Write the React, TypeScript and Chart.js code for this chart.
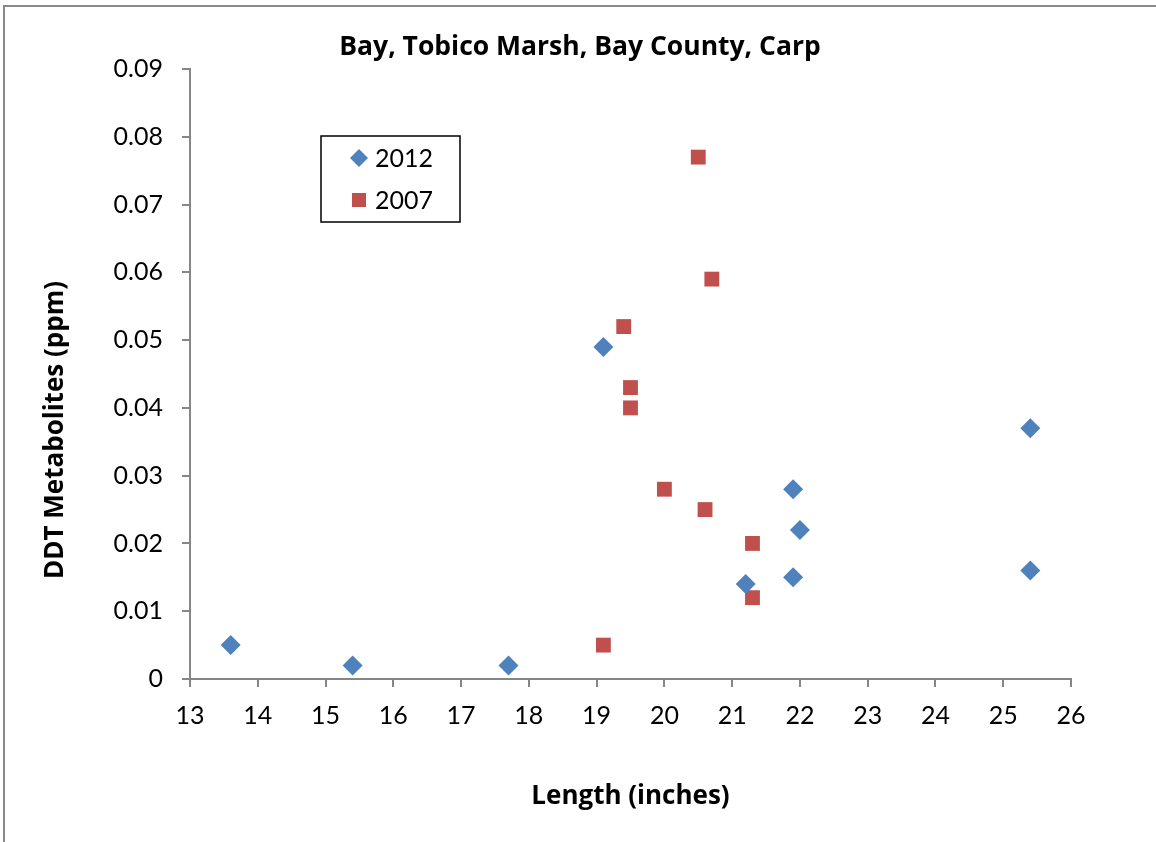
import React, { useEffect, useRef } from "react";
import { Chart, registerables } from "chart.js";

Chart.register(...registerables);

const TITLE = "Bay, Tobico Marsh, Bay County, Carp";
const X_TITLE = "Length (inches)";
const Y_TITLE = "DDT Metabolites (ppm)";
const SERIES_NAMES = ["2012", "2007"];

const LEN_2012 = [13.6, 15.4, 17.7, 19.1, 21.2, 21.9, 21.9, 22.0, 25.4, 25.4];
const DDT_2012 = [0.005, 0.002, 0.002, 0.049, 0.014, 0.028, 0.015, 0.022, 0.037, 0.016];

const LEN_2007 = [20.5, 20.7, 19.4, 19.5, 19.5, 20.0, 20.6, 21.3, 21.3, 19.1];
const DDT_2007 = [0.077, 0.059, 0.052, 0.043, 0.04, 0.028, 0.025, 0.02, 0.012, 0.005];

const X_MIN = 13;
const X_MAX = 26;
const X_STEP = 1;
const Y_MIN = 0;
const Y_MAX = 0.09;
const Y_STEP = 0.01;

const BLUE = "#4F81BD";
const RED = "#C0504D";
const AXIS = "#868686";
const FONT = "Lato, 'Open Sans', sans-serif";
const BOLD_FONT = "'Open Sans', Lato, sans-serif";

const toPoints = (xs: number[], ys: number[]) => xs.map((x, i) => ({ x, y: ys[i] }));

const decorPlugin = {
  id: "decor",
  beforeDraw(chart: any) {
    const ctx = chart.ctx;
    ctx.save();
    ctx.fillStyle = "#ffffff";
    ctx.fillRect(0, 0, chart.width, chart.height);
    ctx.strokeStyle = "#8a8a8a";
    ctx.lineWidth = 2;
    ctx.beginPath();
    ctx.moveTo(4, chart.height);
    ctx.lineTo(4, 6);
    ctx.lineTo(chart.width, 6);
    ctx.stroke();
    ctx.restore();
  },
  afterDraw(chart: any) {
    const ctx = chart.ctx;
    const area = chart.chartArea;
    ctx.save();
    ctx.fillStyle = "#000000";
    // chart title
    ctx.font = `bold 26.5px ${BOLD_FONT}`;
    ctx.textAlign = "center";
    ctx.textBaseline = "alphabetic";
    ctx.fillText(TITLE, 580, 55);
    // x title
    ctx.font = `bold 26px ${BOLD_FONT}`;
    ctx.fillText(X_TITLE, (area.left + area.right) / 2, 804);
    // y title
    ctx.save();
    ctx.translate(63, 430);
    ctx.rotate(-Math.PI / 2);
    ctx.fillText(Y_TITLE, 0, 0);
    ctx.restore();

    // legend
    const lx = 321, ly = 136, lw = 139, lh = 86;
    ctx.strokeStyle = "#000000";
    ctx.lineWidth = 1.5;
    ctx.strokeRect(lx, ly, lw, lh);
    const rows = [
      { name: SERIES_NAMES[0], color: BLUE, shape: "diamond", y: 158 },
      { name: SERIES_NAMES[1], color: RED, shape: "square", y: 200 },
    ];
    ctx.font = `25px ${FONT}`;
    ctx.textAlign = "left";
    ctx.textBaseline = "middle";
    for (const r of rows) {
      ctx.fillStyle = r.color;
      ctx.beginPath();
      if (r.shape === "diamond") {
        const s = 9;
        ctx.moveTo(359, r.y - s);
        ctx.lineTo(359 + s, r.y);
        ctx.lineTo(359, r.y + s);
        ctx.lineTo(359 - s, r.y);
        ctx.closePath();
      } else {
        ctx.rect(352, r.y - 7, 14, 14);
      }
      ctx.fill();
      ctx.fillStyle = "#000000";
      ctx.fillText(r.name, 375, r.y + 1);
    }
    ctx.restore();
  },
};

export default function App() {
  const ref = useRef<HTMLCanvasElement | null>(null);

  useEffect(() => {
    if (!ref.current) return;
    const chart = new Chart(ref.current, {
      type: "scatter",
      data: {
        datasets: [
          {
            label: SERIES_NAMES[0],
            data: toPoints(LEN_2012, DDT_2012),
            backgroundColor: BLUE,
            borderColor: BLUE,
            pointStyle: "rectRot",
            pointRadius: 10,
            pointHoverRadius: 10,
            borderWidth: 0,
          },
          {
            label: SERIES_NAMES[1],
            data: toPoints(LEN_2007, DDT_2007),
            backgroundColor: RED,
            borderColor: RED,
            pointStyle: "rect",
            pointRadius: 10.5,
            pointHoverRadius: 10.5,
            borderWidth: 0,
          },
        ],
      },
      options: {
        animation: false,
        responsive: false,
        events: [],
        layout: { padding: { top: 69, right: 85, bottom: 0, left: 0 } },
        plugins: {
          legend: { display: false },
          title: { display: false },
          tooltip: { enabled: false },
        },
        scales: {
          x: {
            type: "linear",
            min: X_MIN,
            max: X_MAX,
            afterFit: (s: any) => {
              s.height = 163;
            },
            ticks: {
              stepSize: X_STEP,
              autoSkip: false,
              maxRotation: 0,
              padding: 14,
              color: "#000000",
              font: { family: FONT, size: 25 },
            },
            grid: {
              drawOnChartArea: false,
              drawTicks: true,
              tickLength: 8,
              color: AXIS,
              lineWidth: 2,
            },
            border: { display: true, color: AXIS, width: 2 },
          },
          y: {
            type: "linear",
            min: Y_MIN,
            max: Y_MAX,
            afterFit: (s: any) => {
              s.width = 190;
            },
            ticks: {
              stepSize: Y_STEP,
              autoSkip: false,
              padding: 19,
              color: "#000000",
              font: { family: FONT, size: 25 },
              callback: (v: any) => (Number(v) === 0 ? "0" : Number(v).toFixed(2)),
            },
            grid: {
              drawOnChartArea: false,
              drawTicks: true,
              tickLength: 8,
              color: AXIS,
              lineWidth: 2,
            },
            border: { display: true, color: AXIS, width: 2 },
          },
        },
      },
      plugins: [decorPlugin],
    });
    return () => chart.destroy();
  }, []);

  return (
    <div style={{ position: "absolute", left: 0, top: 0, width: 1156, height: 842 }}>
      <canvas ref={ref} width={1156} height={842} style={{ display: "block" }} />
    </div>
  );
}
